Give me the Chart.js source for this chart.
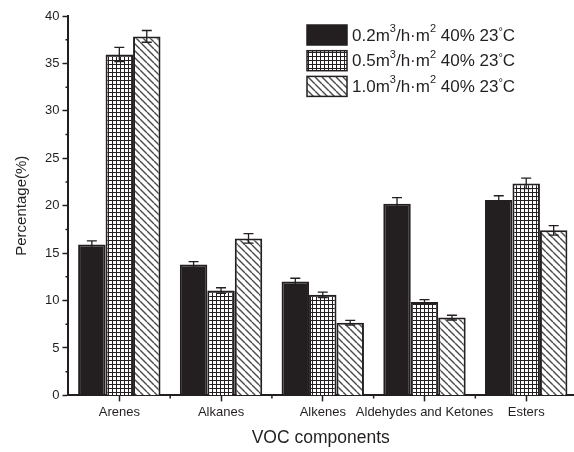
<!DOCTYPE html>
<html>
<head>
<meta charset="utf-8">
<script src="https://cdn.jsdelivr.net/npm/chart.js@4.4.1/dist/chart.umd.min.js"></script>
<style>
  html, body { margin: 0; padding: 0; background: #fff; }
  #wrap { width: 574px; height: 452px; }
</style>
</head>
<body>
<div id="wrap"><canvas id="grafico"></canvas></div>
<script>
// datos
const categorias = ['Arenes', 'Alkanes', 'Alkenes', 'Aldehydes and Ketones', 'Esters'];
const etiquetas = ['0.2m\u00b3/h\u00b7m\u00b2 40% 23\u2103', '0.5m\u00b3/h\u00b7m\u00b2 40% 23\u2103', '1.0m\u00b3/h\u00b7m\u00b2 40% 23\u2103'];
const valores02 = [15.9, 13.8, 12.0, 20.2, 20.6];
const errores02 = [0.4, 0.3, 0.35, 0.65, 0.45];
const valores05 = [35.95, 11.05, 10.6, 9.85, 22.35];
const errores05 = [0.75, 0.3, 0.28, 0.25, 0.55];
const valores10 = [37.85, 16.55, 7.65, 8.2, 17.4];
const errores10 = [0.62, 0.5, 0.25, 0.25, 0.5];
const ticksY = [0, 5, 10, 15, 20, 25, 30, 35, 40];

const NEGRO = '#231f20';
const FUENTE = "'Liberation Sans', Arial, sans-serif";

// patrones de relleno
function patronRejilla() {
  const c = document.createElement('canvas');
  c.width = 4; c.height = 4;
  const g = c.getContext('2d');
  g.fillStyle = '#fff';
  g.fillRect(0, 0, 4, 4);
  g.fillStyle = NEGRO;
  g.fillRect(0, 0, 4, 1);
  g.fillRect(0, 0, 1, 4);
  return g.createPattern(c, 'repeat');
}

function patronRayas() {
  const s = 7;
  const c = document.createElement('canvas');
  c.width = s; c.height = s;
  const g = c.getContext('2d');
  g.fillStyle = '#fff';
  g.fillRect(0, 0, s, s);
  g.strokeStyle = '#4a4a4a';
  g.lineWidth = 1.4;
  [-s, 0, s].forEach(o => {
    g.beginPath();
    g.moveTo(o, 0);
    g.lineTo(o + s, s);
    g.stroke();
  });
  return g.createPattern(c, 'repeat');
}

const aPuntos = (arr) => arr.map((v, i) => ({x: i, y: v}));

const errores = [errores02, errores05, errores10];

// barras de error
const pluginErrores = {
  id: 'errores',
  afterDatasetsDraw(chart) {
    const ctx = chart.ctx;
    const y = chart.scales.y;
    ctx.save();
    ctx.strokeStyle = NEGRO;
    ctx.lineWidth = 1.3;
    chart.data.datasets.forEach((ds, d) => {
      const meta = chart.getDatasetMeta(d);
      meta.data.forEach((el, i) => {
        const v = ds.data[i].y;
        const e = errores[d][i];
        const yArriba = y.getPixelForValue(v + e);
        const yAbajo = y.getPixelForValue(v - e);
        ctx.beginPath();
        ctx.moveTo(el.x, yArriba); ctx.lineTo(el.x, yAbajo);
        ctx.moveTo(el.x - 5, yArriba); ctx.lineTo(el.x + 5, yArriba);
        ctx.moveTo(el.x - 5, yAbajo); ctx.lineTo(el.x + 5, yAbajo);
        ctx.stroke();
      });
    });
    ctx.restore();
  }
};

// marcas menores de los ejes
const pluginMarcas = {
  id: 'marcas',
  afterDraw(chart) {
    const ctx = chart.ctx;
    const x = chart.scales.x, y = chart.scales.y;
    const area = chart.chartArea;
    ctx.save();
    ctx.strokeStyle = NEGRO;
    ctx.lineWidth = 1.5;
    ctx.beginPath();
    for (let v = 2.5; v < 40; v += 5) {
      const py = y.getPixelForValue(v);
      ctx.moveTo(area.left - 3, py); ctx.lineTo(area.left, py);
    }
    for (let v = 0.5; v < categorias.length; v += 1) {
      const px = x.getPixelForValue(v);
      ctx.moveTo(px, area.bottom); ctx.lineTo(px, area.bottom + 3);
    }
    ctx.stroke();
    ctx.restore();
  }
};

// texto con superindices pequenos (³ ² ℃)
function textoLeyenda(ctx, texto, x, y) {
  const normal = '17px ' + FUENTE;
  const chico = '11px ' + FUENTE;
  for (const ch of texto) {
    let s = ch, f = normal, dy = 0;
    if (ch === '\u00b3') { s = '3'; f = chico; dy = -7; }
    else if (ch === '\u00b2') { s = '2'; f = chico; dy = -7; }
    else if (ch === '\u2103') {
      ctx.font = chico;
      ctx.fillText('\u00b0', x, y - 4);
      x += ctx.measureText('\u00b0').width;
      s = 'C';
    }
    ctx.font = f;
    ctx.fillText(s, x, y + dy);
    x += ctx.measureText(s).width;
  }
}

// leyenda dentro del area
const pluginLeyenda = {
  id: 'leyenda',
  afterDraw(chart) {
    const ctx = chart.ctx;
    ctx.save();
    ctx.textBaseline = 'middle';
    chart.data.datasets.forEach((ds, d) => {
      const top = 25 + d * 25.7;
      ctx.fillStyle = ds.backgroundColor;
      ctx.fillRect(307, top, 40, 20);
      ctx.strokeStyle = NEGRO;
      ctx.lineWidth = 1.5;
      ctx.strokeRect(307, top, 40, 20);
      ctx.fillStyle = NEGRO;
      textoLeyenda(ctx, ds.label, 352, top + 11);
    });
    ctx.restore();
  }
};

new Chart(document.getElementById('grafico'), {
  type: 'bar',
  data: {
    datasets: [
      {
        label: etiquetas[0],
        data: aPuntos(valores02),
        backgroundColor: NEGRO,
        borderColor: NEGRO,
        borderWidth: 2
      },
      {
        label: etiquetas[1],
        data: aPuntos(valores05),
        backgroundColor: patronRejilla(),
        borderColor: NEGRO,
        borderWidth: 2
      },
      {
        label: etiquetas[2],
        data: aPuntos(valores10),
        backgroundColor: patronRayas(),
        borderColor: NEGRO,
        borderWidth: 2
      }
    ]
  },
  options: {
    responsive: true,
    maintainAspectRatio: false,
    animation: false,
    categoryPercentage: 0.81,
    barPercentage: 1.0,
    layout: { padding: { left: 2, right: 1, top: 16, bottom: 1 } },
    plugins: {
      legend: { display: false },
      tooltip: { enabled: false }
    },
    scales: {
      x: {
        type: 'linear',
        offset: false,
        min: -0.5,
        max: 4.46,
        afterBuildTicks: (scale) => {
          scale.ticks = categorias.map((c, i) => ({value: i}));
        },
        ticks: {
          autoSkip: false,
          maxRotation: 0,
          padding: 3,
          color: NEGRO,
          font: { family: FUENTE, size: 13 },
          callback: (v) => categorias[v]
        },
        grid: { drawOnChartArea: false, offset: false, tickLength: 6, tickWidth: 1.5, tickColor: NEGRO },
        border: { display: true, width: 2, color: NEGRO },
        title: {
          display: true,
          text: 'VOC components',
          color: NEGRO,
          font: { family: FUENTE, size: 17.5 },
          padding: { top: 5, bottom: 2 }
        }
      },
      y: {
        min: 0,
        max: 40,
        afterBuildTicks: (scale) => {
          scale.ticks = ticksY.map(v => ({value: v}));
        },
        ticks: {
          padding: 3,
          color: NEGRO,
          font: { family: FUENTE, size: 13 }
        },
        grid: { drawOnChartArea: false, tickLength: 6, tickWidth: 1.5, tickColor: NEGRO },
        border: { display: true, width: 2, color: NEGRO },
        title: {
          display: true,
          text: 'Percentage(%)',
          color: NEGRO,
          font: { family: FUENTE, size: 15 },
          padding: { top: 11, bottom: 11 }
        }
      }
    }
  },
  plugins: [pluginErrores, pluginMarcas, pluginLeyenda]
});
</script>
</body>
</html>
